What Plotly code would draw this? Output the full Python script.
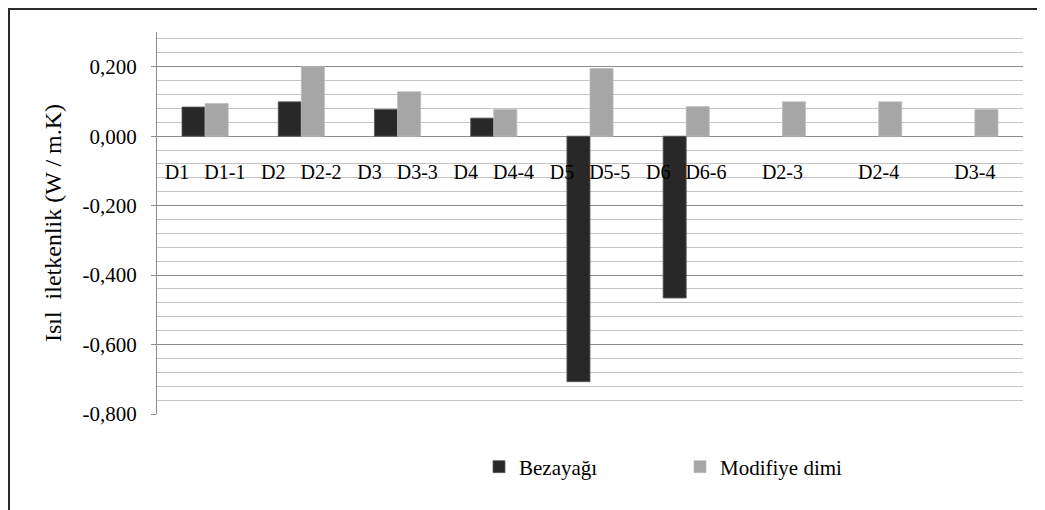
import plotly.graph_objects as go

# ---- data ----
categories = ["D1\u00a0\u00a0\u00a0D1-1", "D2\u00a0\u00a0\u00a0D2-2", "D3\u00a0\u00a0\u00a0D3-3",
              "D4\u00a0\u00a0\u00a0D4-4", "D5\u00a0\u00a0\u00a0D5-5", "D6\u00a0\u00a0\u00a0D6-6",
              "D2-3", "D2-4", "D3-4"]
bezayagi = [0.084, 0.099, 0.077, 0.052, -0.707, -0.466, None, None, None]
modifiye = [0.094, 0.200, 0.128, 0.077, 0.195, 0.085, 0.099, 0.099, 0.077]
series_names = ["Bezayağı", "Modifiye dimi"]
tick_vals = [-0.8, -0.6, -0.4, -0.2, 0.0, 0.2]
tick_text = ["-0,800", "-0,600", "-0,400", "-0,200", "0,000", "0,200"]
y_title = "Isıl\u00a0\u00a0iletkenlik (W / m.K)"

FONT = "Liberation Serif"
OFF = 8  # page body margin offset
W, H = 1045, 510
L, T = 157 - OFF, 32 - OFF
pw, ph = 866, 382
R, B = W - L - pw, H - T - ph

def px(x):  # window px -> paper x
    return (x - OFF - L) / pw

def py(y):  # window px -> paper y
    return (T + ph - (y - OFF)) / ph

fig = go.Figure()
fig.add_trace(go.Bar(x=categories, y=bezayagi, name=series_names[0],
                     marker=dict(color="#282828", line=dict(color="#5a5a5a", width=0.8))))
fig.add_trace(go.Bar(x=categories, y=modifiye, name=series_names[1],
                     marker=dict(color="#a6a6a6", line=dict(color="#bcbcbc", width=0.8))))
# category labels placed next to the zero line (Excel style)
fig.add_trace(go.Scatter(x=categories, y=[-0.11] * len(categories), mode="text",
                         text=categories, textposition="middle center",
                         textfont=dict(family=FONT, size=20, color="#000"),
                         showlegend=False, hoverinfo="skip", cliponaxis=False))

fig.update_layout(
    width=W, height=H,
    margin=dict(l=L, r=R, t=T, b=B, autoexpand=False),
    paper_bgcolor="white", plot_bgcolor="white",
    barmode="group", bargap=0.52, bargroupgap=0,
    font=dict(family=FONT, size=20, color="#000"),
    showlegend=True,
    legend=dict(orientation="h", x=px(479), xanchor="left", y=py(467), yanchor="middle",
                font=dict(family=FONT, size=21, color="#000"),
                bgcolor="rgba(0,0,0,0)", entrywidth=156, entrywidthmode="pixels",
                traceorder="normal"),
    xaxis=dict(type="category", range=[-0.5, 8.5], showticklabels=False, showgrid=False,
               showline=False, zeroline=False, ticks=""),
    yaxis=dict(range=[-0.8, 0.3], tickmode="array", tickvals=tick_vals, ticktext=tick_text,
               showline=True, linecolor="#8c8c8c", linewidth=1,
               ticks="outside", ticklen=5, tickcolor="#8c8c8c", ticklabelstandoff=10,
               tickfont=dict(family=FONT, size=21, color="#000"),
               showgrid=True, gridcolor="#8c8c8c", gridwidth=1,
               zeroline=True, zerolinecolor="#8c8c8c", zerolinewidth=1,
               minor=dict(tick0=-0.8, dtick=0.04, showgrid=True, gridcolor="#c4c4c4",
                          gridwidth=1, ticks=""),
               title=dict(text=y_title, font=dict(family=FONT, size=24, color="#000"),
                          standoff=14)),
    shapes=[dict(type="rect", xref="paper", yref="paper",
                 x0=px(9), x1=px(1060), y0=py(530), y1=py(9),
                 line=dict(color="#2a2a2a", width=2), fillcolor="rgba(0,0,0,0)", layer="above")],
)

fig.write_html("out.html")
